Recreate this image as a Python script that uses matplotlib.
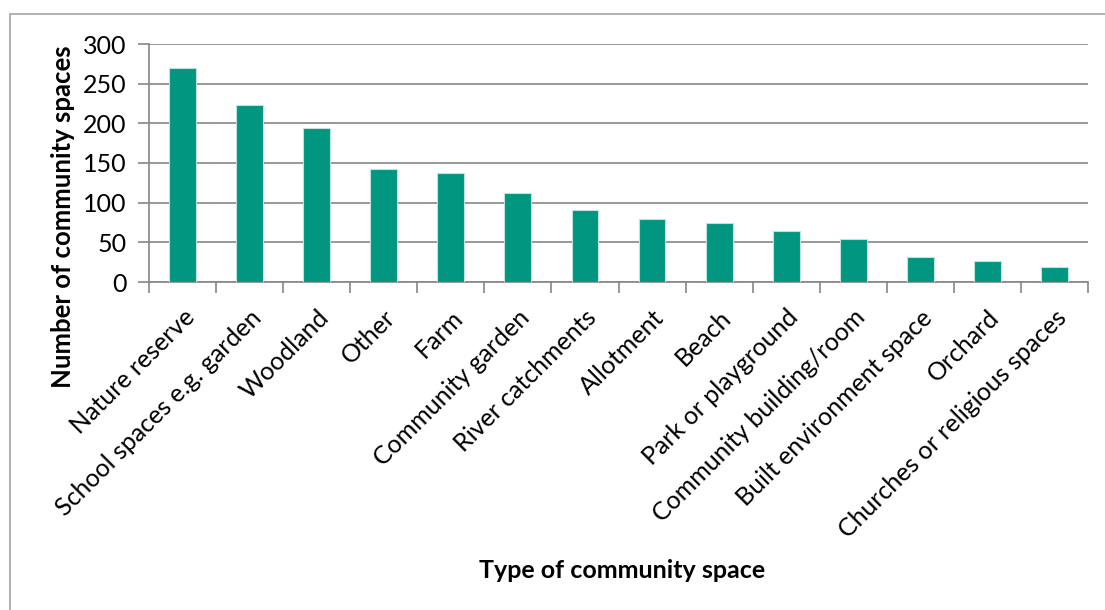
import matplotlib
matplotlib.use("Agg")
import matplotlib.pyplot as plt
from matplotlib.patches import Rectangle

plt.rcParams['font.family'] = ['Lato', 'DejaVu Sans']

categories = ['Nature reserve', 'School spaces e.g. garden', 'Woodland', 'Other', 'Farm',
              'Community garden', 'River catchments', 'Allotment', 'Beach',
              'Park or playground', 'Community building/room', 'Built environment space',
              'Orchard', 'Churches or religious spaces']
counts = [270, 223, 194, 143, 137, 112, 91, 80, 74, 64, 54, 32, 27, 19]
yticks = [0, 50, 100, 150, 200, 250, 300]

grid_col = '#868686'
bar_col = '#00967f'

fig = plt.figure(figsize=(11.05, 6.10), dpi=100)
ax = fig.add_axes([149 / 1105, 1 - 282 / 610, (1088 - 149) / 1105, (282 - 44) / 610])

x = list(range(len(categories)))
ax.bar(x, counts, width=0.4, color=bar_col, edgecolor='#bfe3dc', linewidth=0.8, zorder=3)

ax.set_xlim(-0.5, len(categories) - 0.5)
ax.set_ylim(0, 300)
ax.set_yticks(yticks)
ax.yaxis.grid(True, color=grid_col, linewidth=1.2, zorder=0)

# category boundaries carry the tick marks, labels sit at the centres
ax.set_xticks([i - 0.5 for i in range(len(categories) + 1)], minor=True)
ax.set_xticks(x)
ax.set_xticklabels(categories, rotation=45, ha='right', va='top',
                   rotation_mode='anchor', fontsize=18)
ax.tick_params(axis='x', which='major', length=0, pad=17)
ax.tick_params(axis='x', which='minor', length=8, color=grid_col, width=1.2)
ax.tick_params(axis='y', length=8, color=grid_col, width=1.2, labelsize=18, pad=8)

for s in ['top', 'right']:
    ax.spines[s].set_visible(False)
for s in ['left', 'bottom']:
    ax.spines[s].set_color(grid_col)
    ax.spines[s].set_linewidth(1.2)

fig.text(63 / 1105, 1 - 217 / 610, 'Number of community spaces', rotation=90,
         ha='center', va='center', fontsize=18.5, fontweight='bold')
fig.text(622 / 1105, 1 - 570 / 610, 'Type of community space',
         ha='center', va='center', fontsize=18, fontweight='bold')

# chart-area border
fig.patches.append(Rectangle((10 / 1105, -0.05), 1.2, 1 - 14 / 610 + 0.05,
                             transform=fig.transFigure, fill=False,
                             edgecolor='#a6a6a6', linewidth=1.2))

fig.savefig('out.png', dpi=100)
